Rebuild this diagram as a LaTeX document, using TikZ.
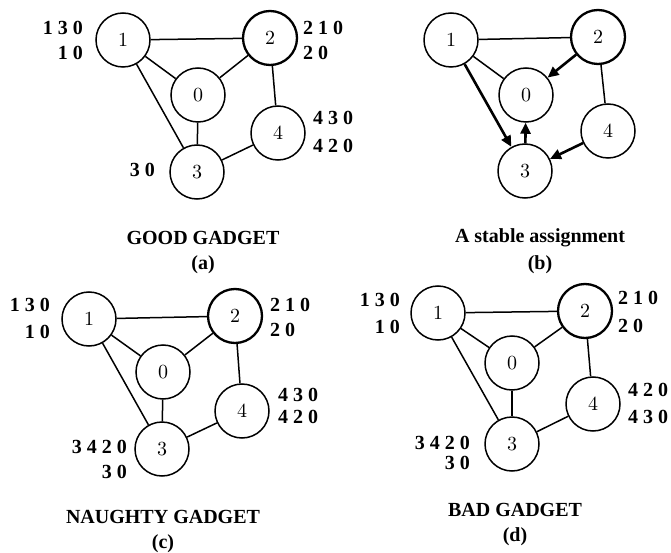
\documentclass[tikz,border=0pt]{standalone}
\usepackage{fontspec}
\setmainfont{Liberation Serif}
\newfontfamily\nodefont{lmroman10-regular}[Extension=.otf]
\usetikzlibrary{arrows.meta}
\begin{document}
\begin{tikzpicture}[x=1pt,y=-1pt,
 vtx/.style={circle, draw, line width=1.5pt, minimum size=54pt, inner sep=0pt, font=\nodefont\fontsize{20}{23}\selectfont},
 vtxb/.style={vtx, line width=2.3pt},
 edge/.style={line width=1.5pt},
 arr/.style={line width=2.6pt, -{Triangle[length=11pt,width=10pt]}},
 lab/.style={font=\fontsize{20}{23}\selectfont\bfseries, inner sep=0pt},
 captext/.style={font=\fontsize{20}{23}\selectfont\bfseries, inner sep=0pt}]
\useasboundingbox (0,0) rectangle (671,553);

% ---------- (a) ----------
\node[vtx]  (a1) at (123,40)  {1};
\node[vtxb] (a2) at (270,38)  {2};
\node[vtx]  (a0) at (198,95)  {0};
\node[vtx]  (a4) at (278,133) {4};
\node[vtx]  (a3) at (197,172) {3};
\draw[edge] (a1) -- (a2);
\draw[edge] (a1) -- (a0);
\draw[edge] (a1) -- (a3);
\draw[edge] (a2) -- (a0);
\draw[edge] (a2) -- (a4);
\draw[edge] (a0) -- (a3);
\draw[edge] (a3) -- (a4);
\node[lab, anchor=east] (la1) at (83,28)  {1 3 0};
\node[lab, anchor=east] (la2) at (83,53)  {1 0};
\node[lab, anchor=west] (la3) at (303,28) {2 1 0};
\node[lab, anchor=west] (la4) at (303,53) {2 0};
\node[lab, anchor=west] (la5) at (313,118) {4 3 0};
\node[lab, anchor=west] (la6) at (313,146) {4 2 0};
\node[lab, anchor=east] (la7) at (155,170) {3 0};
\node[captext] (capa) at (203,238) {GOOD GADGET};
\node[captext] (cara) at (203,265) {(a)};

% ---------- (b) ----------
\node[vtx]  (b1) at (451,40)  {1};
\node[vtxb] (b2) at (598,37)  {2};
\node[vtx]  (b0) at (526,95)  {0};
\node[vtx]  (b4) at (608,131) {4};
\node[vtx]  (b3) at (525,171) {3};
\draw[edge] (b1) -- (b2);
\draw[edge] (b1) -- (b0);
\draw[edge] (b2) -- (b4);
\draw[arr] (b1) -- (b3);
\draw[arr] (b2) -- (b0);
\draw[arr] (b3) -- (b0);
\draw[arr] (b4) -- (b3);
\node[captext] (capb) at (540,238) {A stable assignment};
\node[captext] (carb) at (540,265) {(b)};

% ---------- (c) ----------
\node[vtx]  (c1) at (89,319)  {1};
\node[vtxb] (c2) at (235,316) {2};
\node[vtx]  (c0) at (163,372) {0};
\node[vtx]  (c4) at (242,411) {4};
\node[vtx]  (c3) at (162,449) {3};
\draw[edge] (c1) -- (c2);
\draw[edge] (c1) -- (c0);
\draw[edge] (c1) -- (c3);
\draw[edge] (c2) -- (c0);
\draw[edge] (c2) -- (c4);
\draw[edge] (c0) -- (c3);
\draw[edge] (c3) -- (c4);
\node[lab, anchor=east] (lc1) at (50,305)  {1 3 0};
\node[lab, anchor=east] (lc2) at (50,332)  {1 0};
\node[lab, anchor=west] (lc3) at (270,305) {2 1 0};
\node[lab, anchor=west] (lc4) at (270,330) {2 0};
\node[lab, anchor=west] (lc5) at (278,395) {4 3 0};
\node[lab, anchor=west] (lc6) at (278,417) {4 2 0};
\node[lab, anchor=east] (lc7) at (127,447) {3 4 2 0};
\node[lab, anchor=east] (lc8) at (127,472) {3 0};
\node[captext] (capc) at (163,517) {NAUGHTY GADGET};
\node[captext] (carc) at (163,544) {(c)};

% ---------- (d) ----------
\node[vtx]  (d1) at (438,313) {1};
\node[vtxb] (d2) at (585,311) {2};
\node[vtx]  (d0) at (512,363) {0};
\node[vtx]  (d4) at (593,404) {4};
\node[vtx]  (d3) at (512,444) {3};
\draw[edge] (d1) -- (d2);
\draw[edge] (d1) -- (d0);
\draw[edge] (d1) -- (d3);
\draw[edge] (d2) -- (d0);
\draw[edge] (d2) -- (d4);
\draw[edge] (d0) -- (d3);
\draw[edge] (d3) -- (d4);
\node[lab, anchor=east] (ld1) at (400,300) {1 3 0};
\node[lab, anchor=east] (ld2) at (400,327) {1 0};
\node[lab, anchor=west] (ld3) at (618,298) {2 1 0};
\node[lab, anchor=west] (ld4) at (618,326) {2 0};
\node[lab, anchor=west] (ld5) at (628,390) {4 2 0};
\node[lab, anchor=west] (ld6) at (628,417) {4 3 0};
\node[lab, anchor=east] (ld7) at (470,443) {3 4 2 0};
\node[lab, anchor=east] (ld8) at (470,463) {3 0};
\node[captext] (capd) at (515,510) {BAD GADGET};
\node[captext] (card) at (515,537) {(d)};
\end{tikzpicture}
\end{document}
